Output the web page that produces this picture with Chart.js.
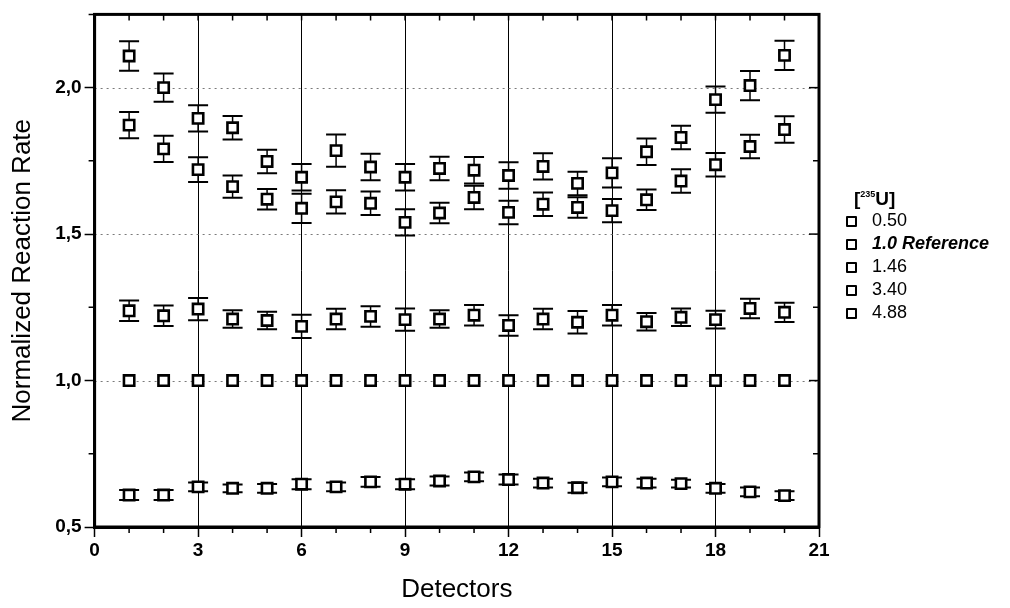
<!DOCTYPE html>
<html>
<head>
<meta charset="utf-8">
<script src="https://cdn.jsdelivr.net/npm/chart.js@4.4.1/dist/chart.umd.min.js"></script>
<style>
body { margin: 0; background: #fff; }
#wrap { position: relative; width: 1010px; height: 608px; }
#legend { position: absolute; left: 846px; top: 182px; font-family: "Liberation Sans", Arial, sans-serif; font-size: 18px; color: #000; }
#legend .ttl { font-weight: bold; font-size: 19px; height: 27px; line-height: 24px; padding-left: 8px; }
#legend .ttl sup { font-size: 9px; vertical-align: 8px; }
#legend .row { height: 23px; line-height: 23px; white-space: nowrap; }
#legend .box { display: inline-block; width: 7px; height: 7px; border: 2.5px solid #000; border-radius: 1px; vertical-align: -1px; margin-right: 15px; }
#legend .ref { font-weight: bold; font-style: italic; }
</style>
</head>
<body>
<div id="wrap">
  <canvas id="myChart" width="1010" height="608"></canvas>
  <div id="legend"></div>
</div>
<script>
// detector numbers and series
var detectors = [1, 2, 3, 4, 5, 6, 7, 8, 9, 10, 11, 12, 13, 14, 15, 16, 17, 18, 19, 20];
var seriesNames = ['0.50', '1.0 Reference', '1.46', '3.40', '4.88'];

var rate050 = [0.609, 0.609, 0.637, 0.632, 0.632, 0.646, 0.637, 0.654, 0.646, 0.657, 0.671, 0.662, 0.650, 0.634, 0.654, 0.650, 0.648, 0.632, 0.620, 0.607];
var rate100 = [1, 1, 1, 1, 1, 1, 1, 1, 1, 1, 1, 1, 1, 1, 1, 1, 1, 1, 1, 1];
var rate146 = [1.238, 1.221, 1.244, 1.210, 1.205, 1.185, 1.210, 1.219, 1.208, 1.210, 1.223, 1.188, 1.210, 1.199, 1.223, 1.201, 1.216, 1.208, 1.246, 1.233];
var rate340 = [1.872, 1.791, 1.720, 1.662, 1.619, 1.588, 1.610, 1.605, 1.540, 1.572, 1.625, 1.574, 1.602, 1.591, 1.580, 1.617, 1.681, 1.737, 1.799, 1.857];
var rate488 = [2.108, 2.000, 1.895, 1.863, 1.748, 1.694, 1.785, 1.729, 1.694, 1.724, 1.718, 1.700, 1.731, 1.673, 1.709, 1.781, 1.830, 1.959, 2.007, 2.110];

// error bar half heights
var err050 = [0.017, 0.017, 0.015, 0.013, 0.015, 0.017, 0.015, 0.017, 0.017, 0.015, 0.015, 0.017, 0.015, 0.017, 0.015, 0.015, 0.013, 0.015, 0.015, 0.015];
var err100 = [0, 0, 0, 0, 0, 0, 0, 0, 0, 0, 0, 0, 0, 0, 0, 0, 0, 0, 0, 0];
var err146 = [0.035, 0.035, 0.038, 0.030, 0.030, 0.040, 0.035, 0.035, 0.038, 0.030, 0.035, 0.035, 0.035, 0.038, 0.035, 0.030, 0.030, 0.030, 0.033, 0.033];
var err340 = [0.045, 0.045, 0.042, 0.038, 0.035, 0.050, 0.040, 0.040, 0.045, 0.035, 0.040, 0.040, 0.040, 0.035, 0.040, 0.035, 0.040, 0.040, 0.040, 0.045];
var err488 = [0.050, 0.048, 0.045, 0.040, 0.040, 0.045, 0.055, 0.045, 0.045, 0.040, 0.045, 0.045, 0.045, 0.040, 0.050, 0.045, 0.040, 0.045, 0.050, 0.050];

var yDotted = [1.0, 1.5, 2.0];

var rates = [rate050, rate100, rate146, rate340, rate488];
var errs = [err050, err100, err146, err340, err488];

var FONT = '"Liberation Sans", Arial, sans-serif';
var CLEAR = 'rgba(0,0,0,0)';

function isMajorY(v) { return Math.abs(v * 2 - Math.round(v * 2)) < 1e-6; }

var datasets = seriesNames.map(function (name, i) {
    return {
        label: name,
        data: detectors.map(function (d, j) { return {x: d, y: rates[i][j]}; }),
        err: errs[i],
        pointStyle: 'rect',
        pointRadius: 7.3,
        pointHoverRadius: 7.3,
        pointBorderWidth: 2.6,
        pointBorderColor: '#000',
        pointBackgroundColor: '#fff',
        showLine: false
    };
});

// error bars, dotted lines, frame and the small ticks
var extras = {
    id: 'extras',
    beforeDatasetsDraw: function (chart) {
        var ctx = chart.ctx, a = chart.chartArea, x = chart.scales.x, y = chart.scales.y;
        ctx.save();
        ctx.strokeStyle = '#7a7a7a';
        ctx.lineWidth = 1;
        ctx.setLineDash([2, 4]);
        yDotted.forEach(function (v) {
            var py = Math.round(y.getPixelForValue(v)) + 0.5;
            ctx.beginPath(); ctx.moveTo(a.left, py); ctx.lineTo(a.right, py); ctx.stroke();
        });
        ctx.setLineDash([]);
        ctx.strokeStyle = '#000';
        chart.data.datasets.forEach(function (ds) {
            ds.data.forEach(function (p, j) {
                var e = ds.err[j];
                if (!e) return;
                var px = x.getPixelForValue(p.x);
                var t = y.getPixelForValue(p.y + e), b = y.getPixelForValue(p.y - e);
                ctx.lineWidth = 1.5;
                ctx.beginPath(); ctx.moveTo(px, t); ctx.lineTo(px, b); ctx.stroke();
                ctx.lineWidth = 2;
                ctx.beginPath();
                ctx.moveTo(px - 10, t); ctx.lineTo(px + 10, t);
                ctx.moveTo(px - 10, b); ctx.lineTo(px + 10, b);
                ctx.stroke();
            });
        });
        ctx.restore();
    },
    afterDraw: function (chart) {
        var ctx = chart.ctx, a = chart.chartArea, x = chart.scales.x, y = chart.scales.y;
        ctx.save();
        ctx.strokeStyle = '#000';
        ctx.lineWidth = 1.5;
        x.ticks.forEach(function (t) {
            var px = x.getPixelForValue(t.value);
            ctx.beginPath();
            ctx.moveTo(px, a.top); ctx.lineTo(px, a.top + 6);
            if (t.value % 3 !== 0) { ctx.moveTo(px, a.bottom); ctx.lineTo(px, a.bottom + 6); }
            ctx.stroke();
        });
        y.ticks.forEach(function (t) {
            var py = y.getPixelForValue(t.value);
            var len = isMajorY(t.value) ? 10 : 6;
            ctx.beginPath();
            ctx.moveTo(a.right, py); ctx.lineTo(a.right - len, py);
            if (!isMajorY(t.value)) { ctx.moveTo(a.left, py); ctx.lineTo(a.left - 6, py); }
            ctx.stroke();
        });
        ctx.lineWidth = 3;
        ctx.strokeRect(a.left, a.top, a.right - a.left, a.bottom - a.top);
        ctx.restore();
    }
};

var ctx = document.getElementById('myChart');

var myChart = new Chart(ctx, {
    type: 'scatter',
    data: {datasets: datasets},
    options: {
        responsive: false,
        animation: false,
        events: [],
        layout: {padding: {left: 5, right: 191, top: 4, bottom: 1}},
        plugins: {legend: {display: false}, tooltip: {enabled: false}},
        scales: {
            x: {
                type: 'linear', min: 0, max: 21,
                ticks: {
                    stepSize: 1, autoSkip: false, maxRotation: 0, padding: 2, color: '#000',
                    font: {family: FONT, size: 19, weight: 'bold'},
                    callback: function (v) { return v % 3 === 0 ? String(v) : ''; }
                },
                grid: {
                    lineWidth: 1, tickLength: 10, tickWidth: 1.5,
                    color: function (c) { var v = c.tick && c.tick.value; return (v % 3 === 0 && v > 0 && v < 21) ? '#000' : CLEAR; },
                    tickColor: function (c) { return c.tick && c.tick.value % 3 === 0 ? '#000' : CLEAR; }
                },
                border: {display: true, color: '#000', width: 3},
                title: {display: true, text: 'Detectors', color: '#000', font: {family: FONT, size: 26}, padding: {top: 10, bottom: 2}}
            },
            y: {
                type: 'linear', min: 0.5, max: 2.25,
                ticks: {
                    stepSize: 0.25, autoSkip: false, padding: 3, color: '#000',
                    font: {family: FONT, size: 19, weight: 'bold'},
                    callback: function (v) { return isMajorY(v) && v < 2.2 ? v.toFixed(1).replace('.', ',') : ''; }
                },
                grid: {
                    lineWidth: 1, tickLength: 10, tickWidth: 1.5,
                    color: CLEAR,
                    tickColor: function (c) { return c.tick && isMajorY(c.tick.value) ? '#000' : CLEAR; }
                },
                border: {display: true, color: '#000', width: 3},
                title: {display: true, text: 'Normalized Reaction Rate', color: '#000', font: {family: FONT, size: 26}, padding: {top: 2, bottom: 14}}
            }
        }
    },
    plugins: [extras]
});

// legend
var html = '<div class="ttl">[<sup>235</sup>U]</div>';
seriesNames.forEach(function (name, i) {
    html += '<div class="row"><span class="box"></span><span' + (i === 1 ? ' class="ref"' : '') + '>' + name + '</span></div>';
});
document.getElementById('legend').innerHTML = html;
</script>
</body>
</html>
